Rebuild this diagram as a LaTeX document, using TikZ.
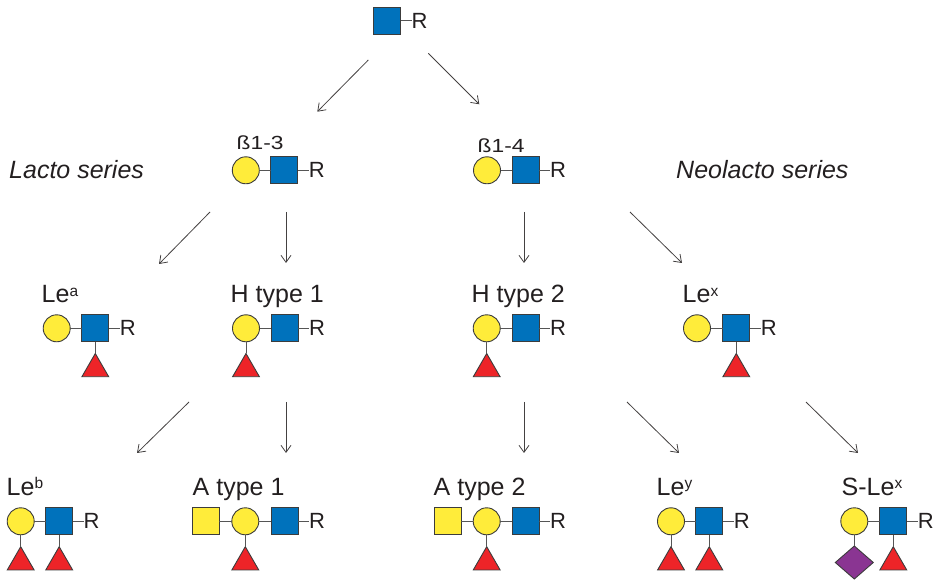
\documentclass[tikz,border=0pt]{standalone}
\usepackage{fontspec}
\setmainfont{Liberation Sans}
\usetikzlibrary{shapes.geometric,arrows.meta}
\definecolor{glcB}{HTML}{0072BC}
\definecolor{galY}{HTML}{FFEC3A}
\definecolor{fucR}{HTML}{ED2428}
\definecolor{siaP}{HTML}{8A3592}
\definecolor{outl}{HTML}{3C3C3C}
\definecolor{bondc}{HTML}{555555}
\definecolor{txt}{HTML}{231F20}
\newcommand{\lab}{\fontsize{25}{30}\selectfont}
\newcommand{\sups}[1]{\raisebox{6pt}{\fontsize{15.5}{17}\selectfont #1}}
\begin{document}
\begin{tikzpicture}[x=1pt,y=-1pt,
  res/.style={draw=outl, line width=0.9pt, inner sep=0pt, outer sep=0pt},
  gal/.style={res, circle, fill=galY, minimum size=27pt},
  glcnac/.style={res, rectangle, fill=glcB, minimum size=27pt},
  galnac/.style={res, rectangle, fill=galY, minimum size=27pt},
  fuc/.style={res, regular polygon, regular polygon sides=3, fill=fucR, minimum size=31pt, anchor=corner 1},
  sia/.style={res, diamond, fill=siaP, minimum width=38pt, minimum height=33pt, anchor=north},
  rlab/.style={inner sep=0pt, outer sep=0pt, text=txt, font=\fontsize{22}{26}\selectfont, anchor=west},
  glab/.style={inner sep=0pt, text=txt, font=\lab, anchor=base west},
  slab/.style={inner sep=0pt, text=txt, font=\lab\itshape, anchor=base west},
  bond/.style={draw=bondc, line width=1pt},
  arr/.style={draw=txt!85, line width=0.8pt, -{Straight Barb[length=7pt,width=10pt]}}
]
\useasboundingbox (0,0) rectangle (938,585);

% ---------- top ----------
\node[glcnac] (t0s) at (387.2,20.5) {};
\node[rlab] (t0R) at ([xshift=11pt]t0s.east) {R};
\draw[bond] (t0s) -- (t0R);

% ---------- row 2 ----------
\node[glab] (lb3) at (236.5,149.5) {\scalebox{1.2}[1]{\fontsize{19}{22}\selectfont ß1-3}};
\node[gal] (b3c) at (245.8,170.3) {};
\node[glcnac] (b3s) at (284.3,170.3) {};
\node[rlab] (b3R) at ([xshift=11pt]b3s.east) {R};
\draw[bond] (b3c) -- (b3s) (b3s) -- (b3R);

\node[glab] (lb4) at (477.5,152.5) {\scalebox{1.2}[1]{\fontsize{19}{22}\selectfont ß1-4}};
\node[gal] (b4c) at (487,170.3) {};
\node[glcnac] (b4s) at (525.7,170.3) {};
\node[rlab] (b4R) at ([xshift=11pt]b4s.east) {R};
\draw[bond] (b4c) -- (b4s) (b4s) -- (b4R);

\node[slab] (lacto) at (9,179) {Lacto series};
\node[slab] (neolacto) at (676,179) {Neolacto series};

% ---------- row 3 ----------
% Le a
\node[glab] (llea) at (41.5,303) {Le\sups{a}};
\node[gal] (leac) at (56.7,328.3) {};
\node[glcnac] (leas) at (95.3,328.3) {};
\node[rlab] (leaR) at ([xshift=11pt]leas.east) {R};
\node[fuc] (leat) at (95.3,353.5) {};
\draw[bond] (leac) -- (leas) (leas) -- (leaR) (leas.south) -- (leat.corner 1);

% H type 1
\node[glab] (lh1) at (230.5,303) {H type 1};
\node[gal] (h1c) at (246,328.3) {};
\node[glcnac] (h1s) at (284.5,328.3) {};
\node[rlab] (h1R) at ([xshift=11pt]h1s.east) {R};
\node[fuc] (h1t) at (246,353.5) {};
\draw[bond] (h1c) -- (h1s) (h1s) -- (h1R) (h1c.south) -- (h1t.corner 1);

% H type 2
\node[glab] (lh2) at (471.5,303) {H type 2};
\node[gal] (h2c) at (486.7,328.3) {};
\node[glcnac] (h2s) at (525.7,328.3) {};
\node[rlab] (h2R) at ([xshift=11pt]h2s.east) {R};
\node[fuc] (h2t) at (486.7,353.5) {};
\draw[bond] (h2c) -- (h2s) (h2s) -- (h2R) (h2c.south) -- (h2t.corner 1);

% Le x
\node[glab] (llex) at (682.5,303) {Le\sups{x}};
\node[gal] (lexc) at (697,328.3) {};
\node[glcnac] (lexs) at (736.3,328.3) {};
\node[rlab] (lexR) at ([xshift=11pt]lexs.east) {R};
\node[fuc] (lext) at (736.3,353.5) {};
\draw[bond] (lexc) -- (lexs) (lexs) -- (lexR) (lexs.south) -- (lext.corner 1);

% ---------- row 4 ----------
% Le b
\node[glab] (lleb) at (6.5,495) {Le\sups{b}};
\node[gal] (lebc) at (20.7,521.3) {};
\node[glcnac] (lebs) at (59.2,521.3) {};
\node[rlab] (lebR) at ([xshift=11pt]lebs.east) {R};
\node[fuc] (lebt1) at (20.7,546.7) {};
\node[fuc] (lebt2) at (59.2,546.7) {};
\draw[bond] (lebc) -- (lebs) (lebs) -- (lebR) (lebc.south) -- (lebt1.corner 1) (lebs.south) -- (lebt2.corner 1);

% A type 1
\node[glab] (la1) at (192.5,495) {A type 1};
\node[galnac] (a1y) at (205.8,521.3) {};
\node[gal] (a1c) at (245.3,521.3) {};
\node[glcnac] (a1s) at (284.7,521.3) {};
\node[rlab] (a1R) at ([xshift=11pt]a1s.east) {R};
\node[fuc] (a1t) at (245.3,546.7) {};
\draw[bond] (a1y) -- (a1c) (a1c) -- (a1s) (a1s) -- (a1R) (a1c.south) -- (a1t.corner 1);

% A type 2
\node[glab] (la2) at (433.5,495) {A type 2};
\node[galnac] (a2y) at (447.5,521.3) {};
\node[gal] (a2c) at (486.7,521.3) {};
\node[glcnac] (a2s) at (525.7,521.3) {};
\node[rlab] (a2R) at ([xshift=11pt]a2s.east) {R};
\node[fuc] (a2t) at (486.7,546.7) {};
\draw[bond] (a2y) -- (a2c) (a2c) -- (a2s) (a2s) -- (a2R) (a2c.south) -- (a2t.corner 1);

% Le y
\node[glab] (lley) at (656.5,495) {Le\sups{y}};
\node[gal] (leyc) at (671,521.3) {};
\node[glcnac] (leys) at (709.3,521.3) {};
\node[rlab] (leyR) at ([xshift=11pt]leys.east) {R};
\node[fuc] (leyt1) at (671,546.7) {};
\node[fuc] (leyt2) at (709.3,546.7) {};
\draw[bond] (leyc) -- (leys) (leys) -- (leyR) (leyc.south) -- (leyt1.corner 1) (leys.south) -- (leyt2.corner 1);

% S-Le x
\node[glab] (lslex) at (841.5,495) {S-Le\sups{x}};
\node[gal] (slc) at (854.3,521.3) {};
\node[glcnac] (sls) at (893.3,521.3) {};
\node[rlab] (slR) at ([xshift=11pt]sls.east) {R};
\node[sia] (sld) at (854.3,546) {};
\node[fuc] (slt) at (893.3,546.7) {};
\draw[bond] (slc) -- (sls) (sls) -- (slR) (slc.south) -- (sld.north) (sls.south) -- (slt.corner 1);

% ---------- arrows ----------
\coordinate (p1s) at (368.3,60);   \coordinate (p1e) at (317.3,111.7);
\coordinate (p2s) at (428.3,53.3); \coordinate (p2e) at (479.3,104.3);
\coordinate (p3s) at (210,212);    \coordinate (p3e) at (159,264);
\coordinate (p4s) at (286,212);    \coordinate (p4e) at (286,263);
\coordinate (p5s) at (524,212);    \coordinate (p5e) at (524,263);
\coordinate (p6s) at (630,212);    \coordinate (p6e) at (682,263);
\coordinate (p7s) at (189,402);    \coordinate (p7e) at (137,453);
\coordinate (p8s) at (286,402);    \coordinate (p8e) at (286,453);
\coordinate (p9s) at (524,402);    \coordinate (p9e) at (524,453);
\coordinate (p10s) at (627,402);   \coordinate (p10e) at (679,453);
\coordinate (p11s) at (806,402);   \coordinate (p11e) at (858,453);
\foreach \i in {1,...,11} { \draw[arr] (p\i s) -- (p\i e); }
\end{tikzpicture}
\end{document}
